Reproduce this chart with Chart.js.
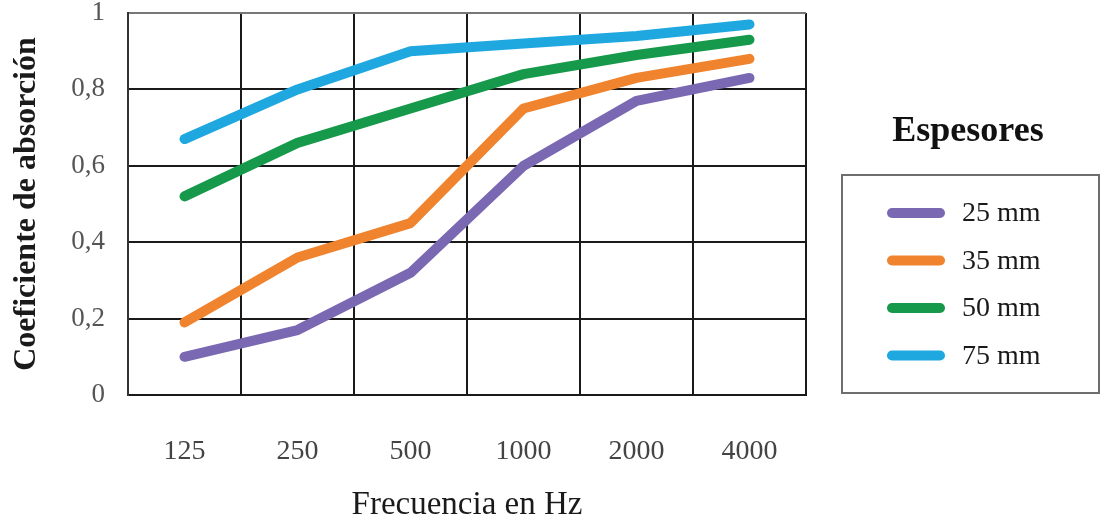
<!DOCTYPE html>
<html>
<head>
<meta charset="utf-8">
<title>Coeficiente de absorción</title>
<script src="https://cdn.jsdelivr.net/npm/chart.js"></script>
<style>
  html, body { margin: 0; padding: 0; background: #fff; }
  #wrap { width: 1102px; height: 522px; }
</style>
</head>
<body>
<div id="wrap"><canvas id="canvas" width="1102" height="522"></canvas></div>
<script>
var frecuencias = [ "125", "250", "500", "1000", "2000", "4000" ];
var esp25 = [ 0.10, 0.17, 0.32, 0.60, 0.77, 0.83 ];
var esp35 = [ 0.19, 0.36, 0.45, 0.75, 0.83, 0.88 ];
var esp50 = [ 0.52, 0.66, 0.75, 0.84, 0.89, 0.93 ];
var esp75 = [ 0.67, 0.80, 0.90, 0.92, 0.94, 0.97 ];
var nombres = [ "25 mm", "35 mm", "50 mm", "75 mm" ];
var colores = [ "#7a68b2", "#f0832d", "#16994a", "#1fa8e0" ];
var yEtiquetas = [ "0", "0,2", "0,4", "0,6", "0,8", "1" ];

var FUENTE = "'Liberation Serif', 'DejaVu Serif', serif";

function serie(i, valores) {
	return {
		label : nombres[i],
		data : valores,
		borderColor : colores[i],
		backgroundColor : colores[i],
		borderWidth : 10,
		borderCapStyle : 'round',
		borderJoinStyle : 'round',
		pointRadius : 0,
		tension : 0,
		fill : false
	};
}

// leyenda a la derecha, con recuadro y titulo
var leyenda = {
	id : 'leyendaEspesores',
	afterDraw : function(chart) {
		var ctx = chart.ctx;
		ctx.save();
		ctx.fillStyle = '#111';
		ctx.font = 'bold 36px ' + FUENTE;
		ctx.textAlign = 'center';
		ctx.textBaseline = 'alphabetic';
		ctx.fillText('Espesores', 968, 141);

		ctx.strokeStyle = '#6e6e6e';
		ctx.lineWidth = 2;
		ctx.strokeRect(842, 175, 257, 218);

		ctx.font = '28px ' + FUENTE;
		ctx.textAlign = 'left';
		ctx.textBaseline = 'middle';
		chart.data.datasets.forEach(function(ds, i) {
			var y = 213 + i * 47.5;
			ctx.strokeStyle = ds.borderColor;
			ctx.lineWidth = 10;
			ctx.lineCap = 'round';
			ctx.beginPath();
			ctx.moveTo(892, y);
			ctx.lineTo(940, y);
			ctx.stroke();
			ctx.fillStyle = '#1a1a1a';
			ctx.fillText(ds.label, 962, y + 1);
		});
		ctx.restore();
	}
};

window.onload = function() {
	var ctx = document.getElementById("canvas").getContext("2d");
	window.myLine = new Chart(ctx, {
		type : 'line',
		data : {
			labels : frecuencias,
			datasets : [ serie(0, esp25), serie(1, esp35), serie(2, esp50), serie(3, esp75) ]
		},
		plugins : [ leyenda ],
		options : {
			responsive : false,
			animation : false,
			layout : {
				padding : { left : 0, top : 13, right : 296, bottom : 0 }
			},
			plugins : {
				legend : { display : false },
				title : { display : false },
				tooltip : { enabled : false }
			},
			scales : {
				x : {
					offset : true,
					grid : {
						offset : true,
						drawTicks : true,
						tickLength : 40,
						tickColor : 'rgba(0,0,0,0)',
						lineWidth : 2,
						color : function(c) {
							return c.index === frecuencias.length ? '#777' : '#1a1a1a';
						}
					},
					border : { color : '#1a1a1a', width : 2 },
					ticks : {
						padding : 0,
						color : '#444',
						font : { family : FUENTE, size : 28 }
					},
					title : {
						display : true,
						text : 'Frecuencia en Hz',
						color : '#1a1a1a',
						font : { family : FUENTE, size : 33, lineHeight : 1 },
						padding : { top : 0, bottom : 0 }
					},
					afterFit : function(scale) {
						scale.height = 127;
					}
				},
				y : {
					min : 0,
					max : 1,
					grid : {
						drawTicks : true,
						tickLength : 23,
						tickColor : 'rgba(0,0,0,0)',
						lineWidth : 2,
						color : function(c) {
							return c.tick && c.tick.value === 1 ? '#777' : '#1a1a1a';
						}
					},
					border : { color : '#333', width : 2 },
					ticks : {
						stepSize : 0.2,
						padding : 0,
						color : '#555',
						font : { family : FUENTE, size : 27, lineHeight : 0.9 },
						callback : function(value, index) {
							return yEtiquetas[index];
						}
					},
					title : {
						display : true,
						text : 'Coeficiente de absorción',
						color : '#1a1a1a',
						font : { family : FUENTE, size : 32, weight : 'bold' },
						padding : { top : 8, bottom : 0 }
					},
					afterFit : function(scale) {
						scale.width = 128;
					}
				}
			}
		}
	});
};
</script>
</body>
</html>
